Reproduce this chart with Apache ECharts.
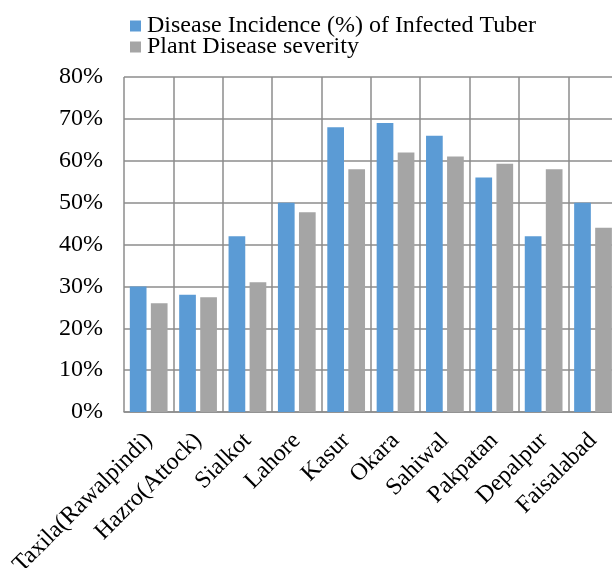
<!DOCTYPE html>
<html><head><meta charset="utf-8">
<script src="https://cdn.jsdelivr.net/npm/echarts@6/dist/echarts.min.js"></script>
<style>html,body{margin:0;padding:0;overflow:hidden;background:#fff}#c{width:620px;height:568px}</style>
</head><body><div id="c"></div>
<script>
const categories = ["Taxila(Rawalpindi)","Hazro(Attock)","Sialkot","Lahore","Kasur","Okara","Sahiwal","Pakpatan","Depalpur","Faisalabad"];
const incidence = [30,28,42,50,68,69,66,56,42,50];
const severity = [26,27.4,31,47.7,58,62,61,59.3,58,44];
const seriesNames = ["Disease Incidence (%) of Infected Tuber","Plant Disease severity"];
const chart = echarts.init(document.getElementById('c'));
const font = "'Liberation Serif','Times New Roman',serif";
chart.setOption({
  animation:false,
  textStyle:{fontFamily:font},
  legend:{orient:'vertical',left:130,top:14,padding:0,itemWidth:11,itemHeight:11,itemGap:-3,icon:'rect',
    textStyle:{fontFamily:font,fontSize:24,lineHeight:24,color:'#000',padding:[0,0,0,1]},
    data:seriesNames},
  grid:{left:124,top:77,width:493.7,height:335,containLabel:false,outerBoundsMode:'none'},
  xAxis:{type:'category',data:categories,
    axisLine:{lineStyle:{color:'#8c8c8c',width:1.5}},
    axisTick:{show:false},
    splitLine:{show:true,lineStyle:{color:'#8c8c8c',width:1.5}},
    axisLabel:{interval:0,rotate:45,fontFamily:font,fontSize:24,color:'#000',margin:25}},
  yAxis:{type:'value',min:0,max:80,interval:10,
    axisLine:{show:false},axisTick:{show:false},
    splitLine:{lineStyle:{color:'#8c8c8c',width:1.5}},
    axisLabel:{formatter:'{value}%',fontFamily:font,fontSize:24,color:'#000',margin:21}},
  series:[
    {name:seriesNames[0],type:'bar',data:incidence,barWidth:16.7,barGap:'26%',itemStyle:{color:'#5B9BD5'}},
    {name:seriesNames[1],type:'bar',data:severity,barWidth:16.7,barGap:'26%',itemStyle:{color:'#A5A5A5'}}
  ]
});
</script></body></html>
